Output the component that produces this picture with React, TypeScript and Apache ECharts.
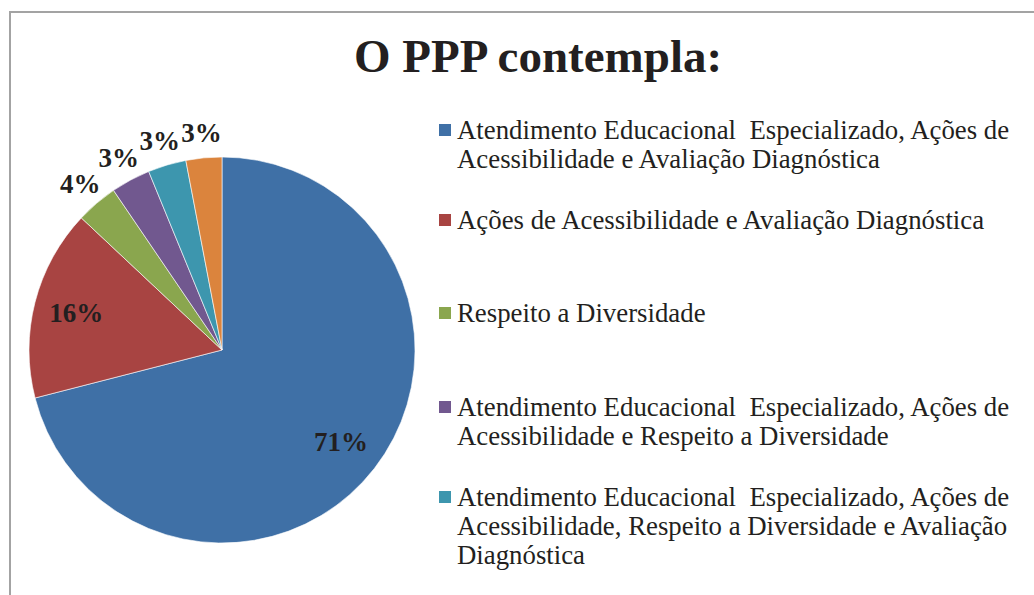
import React, { useEffect, useRef } from 'react';
import * as echarts from 'echarts';

const chartTitle = 'O PPP contempla:';

const categories = [
  'Atendimento Educacional  Especializado, Ações de Acessibilidade e Avaliação Diagnóstica',
  'Ações de Acessibilidade e Avaliação Diagnóstica',
  'Respeito a Diversidade',
  'Atendimento Educacional  Especializado, Ações de Acessibilidade e Respeito a Diversidade',
  'Atendimento Educacional  Especializado, Ações de Acessibilidade, Respeito a Diversidade e Avaliação Diagnóstica',
  'Outros',
];

const legendLines = [
  ['Atendimento Educacional  Especializado, Ações de', 'Acessibilidade e Avaliação Diagnóstica'],
  ['Ações de Acessibilidade e Avaliação Diagnóstica'],
  ['Respeito a Diversidade'],
  ['Atendimento Educacional  Especializado, Ações de', 'Acessibilidade e Respeito a Diversidade'],
  [
    'Atendimento Educacional  Especializado, Ações de',
    'Acessibilidade, Respeito a Diversidade e Avaliação',
    'Diagnóstica',
  ],
];

const values = [71, 16, 3.5, 3.3, 3.2, 3.0];

const colors = ['#3F70A6', '#A84442', '#8AA64E', '#71588F', '#3D96AE', '#DB843D'];

const insideLabelIdx = [0, 1];

const FONT = 'Liberation Serif';

export default function App() {
  const ref = useRef<HTMLDivElement>(null);

  useEffect(() => {
    if (!ref.current) return;
    const chart = echarts.init(ref.current, null, { renderer: 'svg' });

    const cx = 222;
    const cy = 350;
    const R = 193;
    const lh = 29;
    const iconY = [130, 220, 313, 407, 497];
    const kInside = 0.78;
    const kOutside = 1.13;

    const baseData = categories.map((name, i) => ({ name, value: values[i] }));

    const legends = legendLines.map((lines, i) => {
      const n = lines.length;
      const padded = [...Array(n - 1).fill(''), ...lines];
      const total = 2 * n - 1;
      return {
        show: true,
        orient: 'vertical' as const,
        left: 437,
        top: iconY[i] - (total * lh) / 2,
        padding: 0,
        itemWidth: 14,
        itemHeight: 14,
        icon: 'rect',
        selectedMode: false,
        data: [categories[i]],
        formatter: () => padded.join('\n'),
        textStyle: {
          fontFamily: FONT,
          fontSize: 26.8,
          lineHeight: lh,
          color: '#231f20',
        },
      };
    });

    const option: any = {
      animation: false,
      color: colors,
      title: {
        text: chartTitle,
        left: 354,
        top: 32,
        padding: 0,
        textStyle: {
          fontFamily: FONT,
          fontWeight: 'bold',
          fontSize: 47,
          color: '#231f20',
        },
      },
      legend: legends,
      graphic: [
        {
          type: 'rect',
          shape: { x: 10, y: 12, width: 1100, height: 700 },
          style: { fill: 'none', stroke: '#a3a3a3', lineWidth: 2 },
          silent: true,
        },
      ],
      series: [
        {
          type: 'pie',
          center: [cx, cy],
          radius: [0, R],
          startAngle: 90,
          clockwise: true,
          avoidLabelOverlap: false,
          emphasis: { disabled: true },
          itemStyle: { borderColor: '#ffffff', borderWidth: 0.6 },
          label: {
            show: true,
            position: 'outside',
            distanceToLabelLine: 5,
            color: '#231f20',
            fontFamily: FONT,
            fontWeight: 'bold',
            fontSize: 27,
            formatter: (p: any) => Math.round(p.percent) + '%',
          },
          labelLine: {
            show: true,
            length: 0,
            length2: 0,
            lineStyle: { opacity: 0, width: 0 },
          },
          labelLayout: (p: any) => {
            let ex: number;
            let ey: number;
            const pts = p.labelLinePoints;
            if (pts && pts.length) {
              ex = pts[0][0];
              ey = pts[0][1];
            } else {
              const r = p.labelRect;
              ey = r.y + r.height / 2;
              ex = p.align === 'right' ? r.x + r.width + 5 : r.x - 5;
            }
            const len = Math.hypot(ex - cx, ey - cy) || 1;
            const dx = (ex - cx) / len;
            const dy = (ey - cy) / len;
            const k = insideLabelIdx.includes(p.dataIndex) ? kInside : kOutside;
            return {
              x: cx + dx * R * k,
              y: cy + dy * R * k,
              align: 'center',
              verticalAlign: 'middle',
            };
          },
          data: baseData,
        },
      ],
    };

    chart.setOption(option);
    return () => chart.dispose();
  }, []);

  return (
    <div
      ref={ref}
      style={{ position: 'absolute', left: 0, top: 0, width: 1034, height: 595, background: '#fff' }}
    />
  );
}
